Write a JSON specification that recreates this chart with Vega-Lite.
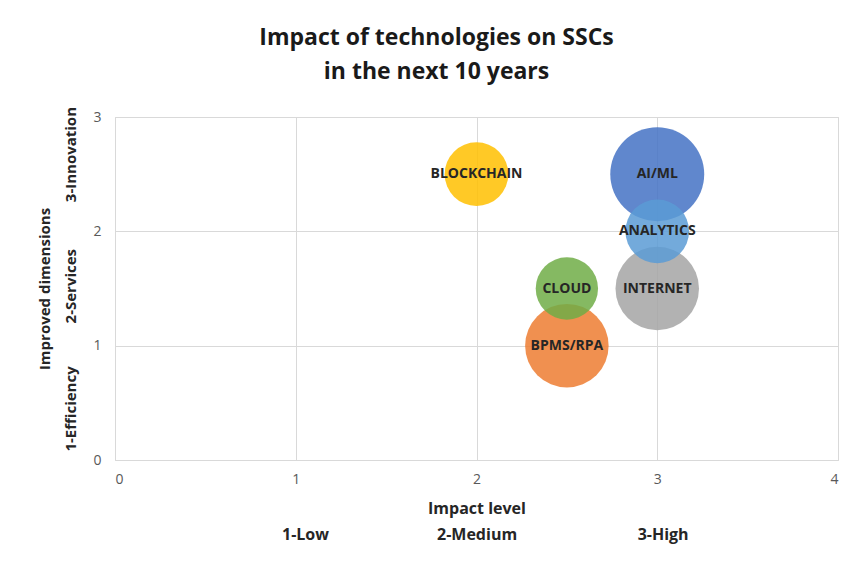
{
  "$schema": "https://vega.github.io/schema/vega-lite/v6.json",
  "width": 723,
  "height": 343,
  "autosize": {"type": "none"},
  "padding": {"left": 115, "top": 117, "right": 26, "bottom": 114},
  "background": "white",
  "title": {
    "text": ["Impact of technologies on SSCs", "in the next 10 years"],
    "fontSize": 23,
    "fontWeight": "bold",
    "font": "Open Sans, sans-serif",
    "color": "#1a1a1a",
    "lineHeight": 34,
    "anchor": "middle",
    "frame": "group",
    "dx": -40,
    "offset": 22
  },
  "config": {
    "view": {"stroke": "#d9d9d9", "strokeWidth": 1},
    "axis": {
      "labelFont": "Open Sans, sans-serif",
      "titleFont": "Open Sans, sans-serif",
      "labelColor": "#595959",
      "titleColor": "#262626",
      "labelFontSize": 14,
      "titleFontWeight": "bold",
      "gridColor": "#d9d9d9",
      "domain": false,
      "ticks": false
    }
  },
  "data": {
    "values": [
      {"tech": "AI/ML", "impact": 3, "dimension": 2.5, "size": 10},
      {"tech": "BPMS/RPA", "impact": 2.5, "dimension": 1, "size": 7.9},
      {"tech": "INTERNET", "impact": 3, "dimension": 1.5, "size": 7.9},
      {"tech": "BLOCKCHAIN", "impact": 2, "dimension": 2.5, "size": 4.6},
      {"tech": "ANALYTICS", "impact": 3, "dimension": 2, "size": 4.6},
      {"tech": "CLOUD", "impact": 2.5, "dimension": 1.5, "size": 4.4}
    ]
  },
  "encoding": {
    "x": {
      "field": "impact",
      "type": "quantitative",
      "scale": {"domain": [0, 4], "nice": false},
      "axis": {
        "values": [0, 1, 2, 3, 4],
        "labelPadding": 12,
        "labelOverlap": false,
        "title": ["Impact level", "\u200b\u00a0\u00a0\u00a0\u00a01-Low\u00a0\u00a0\u00a0\u00a0\u00a0\u00a0\u00a0\u00a0\u00a0\u00a0\u00a0\u00a0\u00a0\u00a0\u00a0\u00a0\u00a0\u00a0\u00a0\u00a0\u00a0\u00a0\u00a0\u00a0\u00a0\u00a02-Medium\u00a0\u00a0\u00a0\u00a0\u00a0\u00a0\u00a0\u00a0\u00a0\u00a0\u00a0\u00a0\u00a0\u00a0\u00a0\u00a0\u00a0\u00a0\u00a0\u00a0\u00a0\u00a0\u00a0\u00a0\u00a0\u00a0\u00a0\u00a0\u00a03-High"],
        "titleFontSize": 16,
        "titlePadding": 14,
        "titleLineHeight": 26
      }
    },
    "y": {
      "field": "dimension",
      "type": "quantitative",
      "scale": {"domain": [0, 3], "nice": false},
      "axis": {
        "values": [0, 1, 2, 3],
        "labelPadding": 14,
        "labelOverlap": false,
        "title": ["Improved dimensions", "\u200b\u00a0\u00a0\u00a0\u00a0\u00a01-Efficiency\u00a0\u00a0\u00a0\u00a0\u00a0\u00a0\u00a0\u00a0\u00a0\u00a0\u00a02-Services\u00a0\u00a0\u00a0\u00a0\u00a0\u00a0\u00a0\u00a0\u00a0\u00a0\u00a0\u00a03-Innovation"],
        "titleFontSize": 15,
        "titlePadding": 14,
        "titleLineHeight": 26
      }
    }
  },
  "layer": [
    {
      "mark": {"type": "circle", "opacity": 0.85, "stroke": null},
      "encoding": {
        "size": {
          "field": "size",
          "type": "quantitative",
          "scale": {"domain": [0, 10], "range": [0, 8825], "zero": true},
          "legend": null
        },
        "color": {
          "field": "tech",
          "type": "nominal",
          "scale": {
            "domain": ["AI/ML", "BPMS/RPA", "INTERNET", "BLOCKCHAIN", "ANALYTICS", "CLOUD"],
            "range": ["#4472C4", "#ED7D31", "#A5A5A5", "#FFC000", "#5B9BD5", "#70AD47"]
          },
          "legend": null
        }
      }
    },
    {
      "mark": {
        "type": "text",
        "fontSize": 14,
        "fontWeight": "bold",
        "font": "Open Sans, sans-serif",
        "color": "#262626"
      },
      "encoding": {"text": {"field": "tech"}}
    }
  ]
}
